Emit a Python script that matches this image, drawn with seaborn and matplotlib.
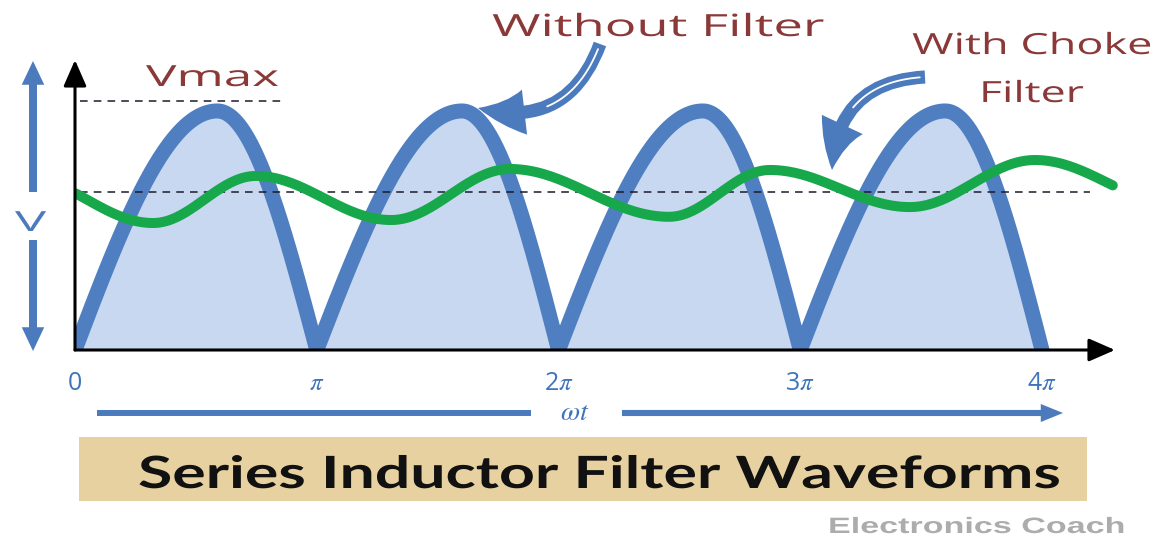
import numpy as np
import pandas as pd
import matplotlib
matplotlib.use("Agg")
import matplotlib.pyplot as plt
import seaborn as sns
from matplotlib.patches import FancyArrowPatch, Rectangle
from matplotlib.lines import Line2D
from matplotlib.patheffects import AbstractPathEffect
from matplotlib.transforms import Affine2D

# ------------------------------------------------------------------ data
cusp_x = [0.0, np.pi, 2 * np.pi, 3 * np.pi, 4 * np.pi]      # zeros of rectified wave (rad)
peak_x = [1.85, 5.03, 8.16, 11.31]                          # crest positions (rad)
peak_v = [0.96, 0.96, 0.96, 0.96]                           # crest values (Vmax = 1)
vmax_level = 1.0
dc_level = 0.635
vmax_line_x = [0.065, 2.73]
dc_line_x = [0.065, 13.19]
green_ext_x = [-0.715, 1.014, 2.352, 4.107, 5.653, 7.719, 9.032, 10.851, 12.476, 14.36]
green_ext_v = [0.70, 0.510, 0.699, 0.522, 0.727, 0.535, 0.723, 0.574, 0.763, 0.58]
green_range = [0.0, 13.50]
tick_pos = [0, np.pi, 2 * np.pi, 3 * np.pi, 4 * np.pi]
tick_labels = ["0", r"$\pi$", r"2$\pi$", r"3$\pi$", r"4$\pi$"]

# ------------------------------------------------------------------ style
sns.set_theme(style="white")
plt.rcParams["font.family"] = ["Open Sans", "DejaVu Sans"]
plt.rcParams["mathtext.fontset"] = "stix"

BLUE = "#4f7fc1"
FILL = "#c8d8f0"
GREEN = "#17a84b"
RED = "#8b3838"
ARROW = "#4b7bbd"
TICK = "#3f74ba"

W, H = 1159, 536
fig = plt.figure(figsize=(W / 100, H / 100), dpi=100)
fig.patch.set_facecolor("white")


def fx(x):
    return x / W


def fy(y):
    return 1 - y / H


ax = fig.add_axes([fx(75), fy(350), 1043 / W, 290 / H])
ax.set_xlim(0, 1043 / 76.95)
ax.set_ylim(0, 290 / 249)
for s in ax.spines.values():
    s.set_visible(False)
ax.set_facecolor("none")

# ---- rectified waveform built from cusps / crests
bx, bv = [], []
t = np.linspace(0, 1, 90)
for i in range(len(peak_x)):
    c0, c1, p, P = cusp_x[i], cusp_x[i + 1], peak_x[i], peak_v[i]
    tr = t if i == 0 else t[1:]
    bx += list(c0 + (p - c0) * tr)
    bv += list(P * np.sin(np.pi / 2 * tr))
    bx += list(p + (c1 - p) * t[1:])
    bv += list(P * np.cos(np.pi / 2 * t[1:]))
bx, bv = np.array(bx), np.array(bv)

# ---- filtered ripple: smooth half-cosine segments between extremes
gx, gv = [], []
for i in range(len(green_ext_x) - 1):
    x0, x1 = green_ext_x[i], green_ext_x[i + 1]
    v0, v1 = green_ext_v[i], green_ext_v[i + 1]
    tt = np.linspace(0, 1, 70)[(0 if i == 0 else 1):]
    gx += list(x0 + (x1 - x0) * tt)
    gv += list(v1 + (v0 - v1) * (1 + np.cos(np.pi * tt)) / 2)
gx, gv = np.array(gx), np.array(gv)
m = (gx >= green_range[0]) & (gx <= green_range[1])
green_df = pd.DataFrame({"wt": gx[m], "v": gv[m]})
blue_df = pd.DataFrame({"wt": bx, "v": bv})

ax.fill_between(blue_df["wt"], 0, blue_df["v"], color=FILL, lw=0, zorder=1)
sns.lineplot(data=blue_df, x="wt", y="v", ax=ax, color=BLUE, linewidth=10.8,
             sort=False, estimator=None, zorder=2)
sns.lineplot(x=vmax_line_x, y=[vmax_level] * 2, ax=ax, color="#1b1b2b",
             linewidth=1.1, linestyle=(0, (5, 4)), zorder=3)
sns.lineplot(x=dc_line_x, y=[dc_level] * 2, ax=ax, color="#1b1b2b",
             linewidth=1.1, linestyle=(0, (5, 4)), zorder=3)
sns.lineplot(data=green_df, x="wt", y="v", ax=ax, color=GREEN, linewidth=7.2,
             sort=False, estimator=None, zorder=4)

# axes arrows
ax.annotate("", xy=(0, ax.get_ylim()[1]), xytext=(0, 0),
            arrowprops=dict(arrowstyle="-|>,head_length=0.8,head_width=0.35", lw=2.2,
                            color="black", shrinkA=0, shrinkB=0, mutation_scale=20),
            annotation_clip=False, zorder=6)
ax.annotate("", xy=(13.515, 0), xytext=(0, 0),
            arrowprops=dict(arrowstyle="-|>,head_length=0.8,head_width=0.35", lw=2.2,
                            color="black", shrinkA=0, shrinkB=0, mutation_scale=20),
            annotation_clip=False, zorder=6)

ax.set_xticks(tick_pos)
ax.set_xticklabels(tick_labels, color=TICK, fontsize=18)
ax.tick_params(axis="x", length=0, pad=15)
ax.set_yticks([])
ax.set_xlabel("")
ax.set_ylabel("")


# ------------------------------------------------------------------ decorations
class HStretch(AbstractPathEffect):
    def __init__(self, sx):
        super().__init__((0.0, 0.0))
        self.sx = sx

    def draw_path(self, renderer, gc, tpath, affine, rgbFace=None):
        ox = affine.transform((0.0, 0.0))[0]
        aff = affine + Affine2D().translate(-ox, 0).scale(self.sx, 1.0).translate(ox, 0)
        renderer.draw_path(gc, tpath, aff, rgbFace)


stretch_items = []


def label(x, base, s, size, width, **kw):
    tx = fig.text(fx(x), fy(base), s, fontsize=size, ha="left", va="baseline", **kw)
    stretch_items.append((tx, width))
    return tx


label(146, 86, "Vmax", 21, 133, color=RED)
label(492, 36, "Without Filter", 22, 332, color=RED)
label(912, 54, "With Choke", 21, 240, color=RED)
label(979, 102, "Filter", 21, 105, color=RED)
label(15, 231, "V", 20, 31, color=ARROW)
label(138, 488, "Series Inductor Filter Waveforms", 32, 924,
      color="#111111", family=["Lato", "DejaVu Sans"], fontweight="bold")
label(828, 533, "Electronics Coach", 16, 297, color="#acacac",
      family=["Liberation Sans", "DejaVu Sans"], fontweight="bold")

fig.text(fx(575), fy(420), r"$\omega t$", fontsize=20, color=TICK,
         ha="center", va="baseline")

# banner
fig.add_artist(Rectangle((fx(79), fy(501)), (1087 - 79) / W, 64 / H,
                         transform=fig.transFigure, facecolor="#e8d1a0",
                         edgecolor="none", zorder=0))


def farrow(a, b, style, ms, rad=0.0, color=ARROW):
    p = FancyArrowPatch((fx(a[0]), fy(a[1])), (fx(b[0]), fy(b[1])),
                        transform=fig.transFigure, arrowstyle=style,
                        mutation_scale=ms, color=color, lw=0,
                        connectionstyle=f"arc3,rad={rad}", shrinkA=0, shrinkB=0)
    fig.add_artist(p)


# left V double arrow
farrow((33, 192), (33, 61), "simple,head_length=0.95,head_width=0.9,tail_width=0.32", 18)
farrow((33, 240), (33, 351), "simple,head_length=0.95,head_width=0.9,tail_width=0.32", 18)

# omega-t arrow
fig.add_artist(Line2D([fx(97), fx(531)], [fy(413), fy(413)], transform=fig.transFigure,
                      color=ARROW, lw=4.3, solid_capstyle="butt"))
farrow((622, 413), (1063, 413), "simple,head_length=0.8,head_width=0.65,tail_width=0.22", 20)


def curved(a, b, rad, ms):
    farrow(a, b, "simple,head_length=1.6,head_width=1.55,tail_width=0.45", ms, rad=rad)
    # white inner line along the shaft (quadratic Bezier of arc3)
    x1, y1 = a[0], H - a[1]
    x2, y2 = b[0], H - b[1]
    dx, dy = x2 - x1, y2 - y1
    cx, cy = (x1 + x2) / 2 + rad * dy, (y1 + y2) / 2 - rad * dx
    tt = np.linspace(0.03, 0.55, 40)
    px = (1 - tt) ** 2 * x1 + 2 * (1 - tt) * tt * cx + tt ** 2 * x2
    py = (1 - tt) ** 2 * y1 + 2 * (1 - tt) * tt * cy + tt ** 2 * y2
    fig.add_artist(Line2D(px / W, py / H, transform=fig.transFigure,
                          color="white", lw=1.3))


curved((600, 44), (478, 108), -0.45, 21)
curved((925, 77), (832, 170), 0.45, 21)

# apply horizontal stretch so the text spans match the reference
fig.canvas.draw()
renderer = fig.canvas.get_renderer()
for tx, w in stretch_items:
    bb = tx.get_window_extent(renderer)
    tx.set_path_effects([HStretch(w / bb.width)])

fig.savefig("out.png", dpi=100, facecolor="white")
